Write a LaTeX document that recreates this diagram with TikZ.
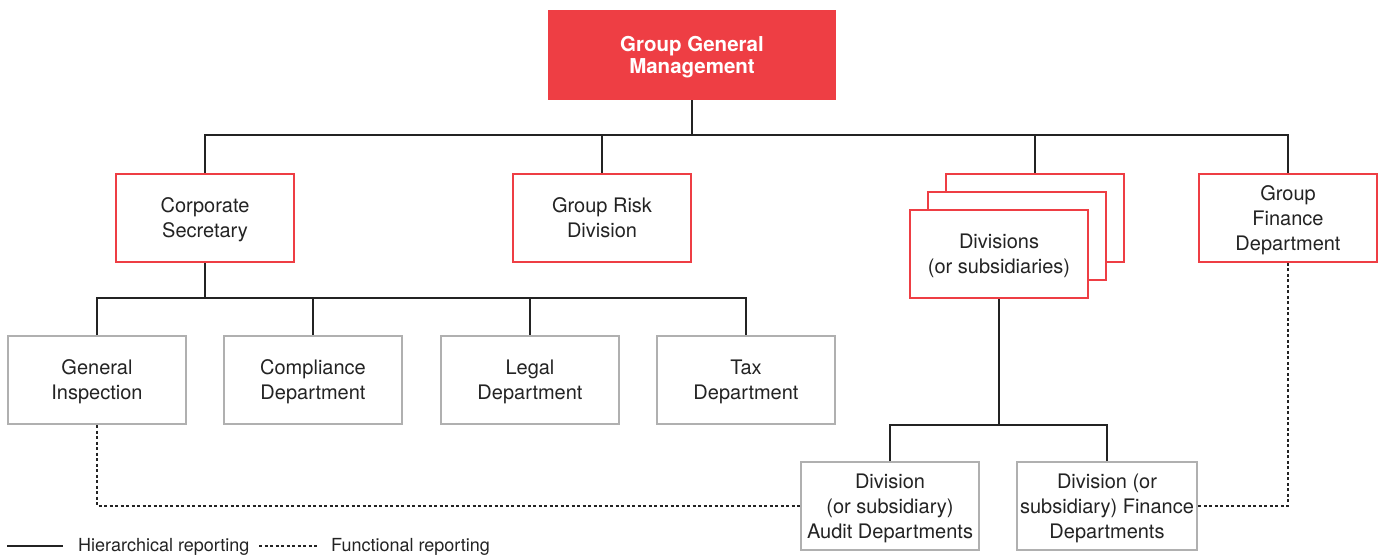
\documentclass[tikz,border=0pt]{standalone}
\usepackage{fontspec}
\setmainfont{TeX Gyre Heros}
\usepackage{xcolor}
\definecolor{groupred}{RGB}{238, 62, 68}
\definecolor{boxgrey}{RGB}{176, 176, 176}
\definecolor{linedark}{RGB}{35, 35, 35}
\usetikzlibrary{positioning, calc}

\tikzset{
  topbox/.style={fill=groupred, draw=none, minimum width=288pt, minimum height=90pt,
    align=center, text=white, font=\fontsize{20.5}{21.5}\selectfont\bfseries,
    text depth=-6pt},
  redbox/.style={draw=groupred, line width=2.4pt, fill=white, minimum width=178pt,
    minimum height=88pt, align=center, text=linedark, font=\fontsize{20}{25}\selectfont,
    text depth=-2pt},
  greybox/.style={redbox, draw=boxgrey},
  hier/.style={draw=linedark, line width=1.3pt},
  func/.style={draw=linedark, line width=1.1pt, dash pattern=on 3pt off 2.5pt},
  legendtext/.style={anchor=west, text=linedark, font=\fontsize{18}{20}\selectfont, inner sep=0pt},
}

\begin{document}
\begin{tikzpicture}[x=1pt, y=-1pt]
    \useasboundingbox (0,0) rectangle (1386,557);

    % top level
    \node[topbox] (ggm) at (692,55) {Group General\\Management};

    % second level
    \node[redbox] (corp) at (205,218) {Corporate\\Secretary};
    \node[redbox] (risk) at (602,218) {Group Risk\\Division};
    \node[redbox] (divback) at (1035,218) {};
    \node[redbox] (divmid) at (1017,236) {};
    \node[redbox] (div) at (999,254) {Divisions\\(or subsidiaries)};
    \node[redbox] (fin) at (1288,218) {Group\\Finance\\Department};

    % third level
    \node[greybox] (insp) at (97,380) {General\\Inspection};
    \node[greybox] (comp) at (313,380) {Compliance\\Department};
    \node[greybox] (legal) at (530,380) {Legal\\Department};
    \node[greybox] (tax) at (746,380) {Tax\\Department};
    \node[greybox] (audit) at (890,506) {Division\\(or subsidiary)\\Audit Departments};
    \node[greybox] (divfin) at (1107,506) {Division (or\\subsidiary) Finance\\Departments};

    % hierarchical lines
    \coordinate (bus1) at (692,135);
    \coordinate (bus2) at (205,298);
    \coordinate (bus3) at (999,425);
    \draw[hier] (ggm.south) -- (bus1);
    \draw[hier] (corp.north) |- (bus1) -| (fin.north);
    \draw[hier] (risk.north) -- (risk.north |- bus1);
    \draw[hier] (divback.north) -- (divback.north |- bus1);
    \draw[hier] (corp.south) -- (bus2);
    \draw[hier] (insp.north) |- (bus2) -| (tax.north);
    \draw[hier] (comp.north) -- (comp.north |- bus2);
    \draw[hier] (legal.north) -- (legal.north |- bus2);
    \draw[hier] (div.south) -- (bus3);
    \draw[hier] (audit.north) |- (bus3) -| (divfin.north);

    % functional lines
    \draw[func] (insp.south) |- (audit.west);
    \draw[func] (divfin.east) -| (fin.south);

    % legend
    \coordinate (leg1) at (7,546);
    \coordinate (leg2) at (63,546);
    \coordinate (leg3) at (259,546);
    \coordinate (leg4) at (317,546);
    \draw[hier, line width=1.1pt] (leg1) -- (leg2);
    \node[legendtext] (hiertext) at (78,547) {Hierarchical reporting};
    \draw[func] (leg3) -- (leg4);
    \node[legendtext] (functext) at (331,547) {Functional reporting};
\end{tikzpicture}
\end{document}
